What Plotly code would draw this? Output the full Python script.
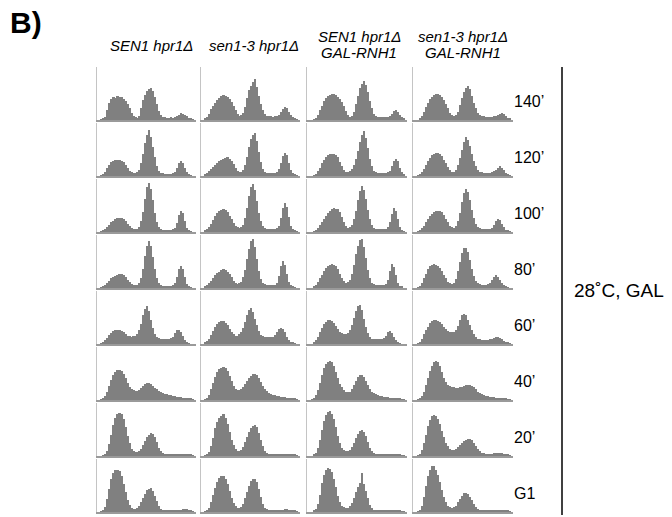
import plotly.graph_objects as go

# ---------------- data ----------------
strains = ["SEN1 hpr1Δ", "sen1-3 hpr1Δ", "SEN1 hpr1Δ<br>GAL-RNH1", "sen1-3 hpr1Δ<br>GAL-RNH1"]
timepoints = ["140’", "120’", "100’", "80’", "60’", "40’", "20’", "G1"]
n_bins = 50
bin_width = 2  # DNA-content channel units per bin (axis 0..100)

# cell counts (% of panel height) per bin, one list per timepoint (140' ... G1)
counts_SEN1 = [
    [0,0,1,2,6,18,32,40,43,42, 45,44,43,40,36,30,22,14,8,5, 4,8,22,38,48,55,58,60,55,44, 30,17,9,6,5,4,4,5,4,5, 7,10,13,12,10,7,4,2,1,0],
    [0,0,1,3,8,15,21,26,29,31, 30,31,29,26,21,15,10,7,5,5, 7,12,24,42,62,78,86,74,55,35, 19,10,6,5,4,4,4,4,5,8, 15,25,29,25,15,7,3,1,0,0],
    [0,0,1,3,6,10,14,18,21,24, 26,27,27,25,21,16,11,7,5,5, 6,10,20,38,62,84,93,82,60,36, 18,9,5,4,4,4,4,4,5,8, 17,32,40,35,20,8,3,1,0,0],
    [0,0,1,3,6,10,14,18,21,23, 25,26,26,24,21,16,12,8,6,5, 5,9,18,36,60,80,89,80,58,35, 18,9,5,4,4,4,4,4,5,9, 20,35,42,36,20,8,3,1,0,0],
    [0,0,1,3,7,12,17,21,24,26, 27,27,25,22,19,16,15,14,15,16, 19,26,38,54,66,71,62,46,30,18, 13,11,10,10,9,10,10,11,14,20, 26,27,23,15,8,3,1,0,0,0],
    [0,0,1,3,8,16,27,38,47,53, 56,57,55,50,42,33,25,21,18,17, 17,19,23,27,30,32,32,30,27,23, 20,17,15,14,12,11,10,9,8,7, 6,6,5,4,4,3,3,2,1,0],
    [0,0,0,1,4,10,22,40,58,72, 79,82,80,70,55,38,24,14,9,7, 8,10,14,20,28,35,40,43,42,36, 26,16,9,5,4,3,3,3,3,2, 3,3,3,3,3,2,2,2,1,0],
    [0,0,1,3,10,24,44,62,74,79, 80,78,68,53,37,23,13,8,6,6, 8,12,18,26,34,41,44,45,40,31, 20,11,6,4,3,3,3,3,3,3, 3,4,4,5,6,6,4,2,1,0],
]
counts_sen13 = [
    [0,0,2,6,12,20,27,33,38,42, 45,47,46,44,40,34,26,18,11,8, 9,14,25,42,57,64,72,77,62,45, 30,18,11,8,7,7,6,7,8,10, 15,21,24,22,15,9,5,3,1,0],
    [0,0,2,5,9,13,17,21,25,28, 31,33,34,35,33,28,22,15,10,8, 8,11,20,36,55,70,78,81,66,45, 27,14,8,6,6,5,5,6,8,13, 25,38,44,40,25,12,5,2,1,0],
    [0,0,2,5,10,16,23,30,36,40, 42,43,41,37,31,24,17,12,9,8, 9,14,26,46,68,84,90,80,58,36, 20,11,7,6,5,5,5,5,7,12, 26,46,55,48,28,12,5,2,1,0],
    [0,0,2,5,9,14,19,24,28,31, 34,35,34,31,26,20,14,10,8,9, 12,20,34,54,74,88,92,78,54,32, 17,10,7,6,5,5,5,6,10,22, 42,51,44,26,12,5,2,1,0,0],
    [0,0,2,5,10,17,25,32,38,41, 43,43,40,35,28,22,18,16,16,18, 22,30,42,55,64,67,60,48,35,24, 17,15,14,13,13,13,14,17,22,28, 31,29,22,14,8,4,2,1,0,0],
    [0,0,1,4,10,20,32,44,53,58, 61,62,60,54,45,35,27,21,18,18, 20,24,30,36,42,46,49,50,47,41, 34,27,21,17,14,12,10,9,8,7, 6,5,5,4,4,3,2,2,1,0],
    [0,0,1,3,8,18,34,52,65,72, 76,80,72,60,45,31,20,13,10,10, 12,17,26,36,46,53,57,58,54,44, 31,19,10,6,4,4,3,3,4,4, 3,4,4,3,3,3,2,2,1,0],
    [0,0,1,3,8,18,32,46,57,64, 67,68,63,53,40,27,17,11,8,8, 10,16,26,38,50,58,62,63,57,44, 29,16,8,5,4,3,3,3,3,4, 4,4,5,5,4,3,2,2,1,0],
]
counts_SEN1_RNH1 = [
    [0,0,0,1,4,10,18,27,35,41, 45,48,50,49,47,44,40,34,26,17, 10,6,8,16,30,46,60,68,74,66, 52,36,22,12,8,6,5,5,5,6, 6,8,12,17,19,16,10,5,2,0],
    [0,0,0,1,4,9,16,24,31,36, 40,42,41,42,40,35,27,18,11,8, 7,9,13,20,32,48,64,78,84,72, 52,33,18,10,7,5,5,5,5,6, 7,10,18,28,33,28,16,7,2,0],
    [0,0,0,1,4,8,13,19,25,31, 36,40,43,45,44,43,37,28,18,11, 8,9,14,24,40,60,78,87,80,62, 42,25,14,8,6,5,5,5,5,6, 9,18,34,45,40,24,10,4,1,0],
    [0,0,0,2,6,11,18,25,32,38, 42,44,45,44,41,35,27,19,13,10, 11,16,27,44,64,80,90,92,78,56, 34,18,10,7,6,6,5,5,6,8, 16,32,45,40,24,10,4,2,0,0],
    [0,0,0,2,7,14,22,30,37,42, 45,46,44,40,34,28,23,20,18,18, 20,26,36,50,63,72,74,64,48,32, 20,13,10,10,9,9,10,10,12,16, 22,24,20,13,7,3,1,0,0,0],
    [0,0,1,3,9,19,33,48,60,68, 72,74,72,64,53,41,31,24,19,16, 15,16,20,28,36,43,47,48,44,36, 28,21,16,13,11,9,8,7,6,5, 5,4,4,3,3,2,2,1,1,0],
    [0,0,0,2,6,15,30,50,66,78, 83,84,80,70,54,38,25,16,11,10, 10,12,17,25,34,42,48,50,46,37, 26,16,9,5,4,3,3,3,3,3, 3,3,4,3,3,3,2,1,1,0],
    [0,0,0,2,6,16,33,54,70,80, 83,82,76,63,47,31,19,12,9,8, 8,11,17,27,38,48,54,74,52,40, 26,14,7,4,3,3,3,3,3,3, 3,3,4,4,3,3,2,1,1,0],
]
counts_sen13_RNH1 = [
    [0,0,0,2,7,15,24,32,39,44, 47,50,49,48,44,38,30,22,14,9, 7,9,16,28,42,53,60,64,58,46, 33,22,14,10,8,7,6,6,5,6, 7,8,10,12,13,11,7,4,2,0],
    [0,0,1,3,8,14,21,28,34,39, 42,44,43,41,37,31,24,17,11,8, 8,11,20,34,50,64,73,68,56,42, 29,18,11,8,7,6,6,6,6,7, 9,12,16,18,16,11,6,3,1,0],
    [0,0,1,3,7,12,18,24,30,34, 37,39,40,40,37,32,25,18,12,9, 8,11,20,36,56,74,82,76,60,42, 27,16,10,7,6,6,5,6,6,8, 13,20,25,23,16,9,4,2,1,0],
    [0,0,1,4,10,18,27,35,41,44, 45,44,42,38,32,25,18,12,9,8, 10,17,32,50,66,75,76,68,52,35, 22,13,9,7,6,6,6,7,10,15, 21,24,21,15,9,5,3,1,0,0],
    [0,0,1,4,10,18,26,33,39,43, 45,45,44,41,37,32,28,25,23,22, 22,26,34,45,54,57,54,46,36,26, 18,13,10,9,8,8,8,8,9,10, 12,14,14,12,9,6,4,2,1,0],
    [0,0,1,3,8,16,28,42,55,65, 71,74,72,64,53,42,34,29,27,25, 24,23,23,24,25,27,28,29,29,27, 24,20,16,13,11,9,8,7,6,5, 5,4,4,3,3,2,2,1,1,0],
    [0,0,1,4,11,24,40,56,68,75, 77,76,70,60,47,35,25,18,14,12, 12,14,17,21,25,28,31,33,33,30, 25,19,13,9,6,5,4,4,4,4, 5,5,6,6,5,4,3,2,1,0],
    [0,0,1,4,12,28,50,68,80,86, 87,80,70,56,41,28,18,12,9,8, 9,12,18,25,31,35,36,34,29,22, 15,9,5,4,3,3,3,3,3,3, 3,3,4,3,3,3,2,2,1,0],
]
all_counts = [counts_SEN1, counts_sen13, counts_SEN1_RNH1, counts_sen13_RNH1]

# ---------------- layout geometry (pixels) ----------------
W, H = 672, 517
col_left = [97, 201, 307, 413]
col_w = [99, 99, 100, 100]
row_top0, row_pitch, row_h = 67, 56, 53

def px_x(x):
    return x / W

def px_y(y):
    return 1 - y / H

bin_centers = [bin_width * b + bin_width / 2 for b in range(n_bins)]

fig = go.Figure()
layout_axes = {}
k = 0
for c, counts in enumerate(all_counts):
    for r, vals in enumerate(counts):
        k += 1
        xa = "x" if k == 1 else f"x{k}"
        ya = "y" if k == 1 else f"y{k}"
        fig.add_trace(go.Bar(
            x=bin_centers, y=vals, width=bin_width,
            marker=dict(color="#808080", line=dict(width=0)),
            xaxis=xa, yaxis=ya, showlegend=False, hoverinfo="skip",
        ))
        top = row_top0 + r * row_pitch
        bot = top + row_h
        xkey = "xaxis" if k == 1 else f"xaxis{k}"
        ykey = "yaxis" if k == 1 else f"yaxis{k}"
        layout_axes[xkey] = dict(
            domain=[px_x(col_left[c]), px_x(col_left[c] + col_w[c])],
            range=[0, 100], anchor=ya, showgrid=False, zeroline=False,
            showticklabels=False, ticks="", showline=True,
            linecolor="#9a9a9a", linewidth=1.5, fixedrange=True,
        )
        layout_axes[ykey] = dict(
            domain=[px_y(bot), px_y(top)],
            range=[0, 100], anchor=xa, showgrid=False, zeroline=False,
            showticklabels=False, ticks="", showline=True,
            linecolor="#c4c4c4", linewidth=1, fixedrange=True,
        )

fig.update_layout(**layout_axes)

font_family = "Liberation Sans, Arial, Helvetica, sans-serif"
annotations = []

def note(text, x, y, size, xanchor="left"):
    annotations.append(dict(text=text, x=px_x(x), y=px_y(y), xref="paper", yref="paper",
                            xanchor=xanchor, yanchor="middle", showarrow=False,
                            font=dict(size=size, color="black", family=font_family)))

# panel label
note("<b>B)</b>", 8, 23, 30)
# column headers
header_cx = [151, 254, 359, 463]
for c, s in enumerate(strains):
    if "<br>" in s:
        l1, l2 = s.split("<br>")
        note(f"<i>{l1}</i>", header_cx[c], 36, 15, "center")
        note(f"<i>{l2}</i>", header_cx[c], 53, 15, "center")
    else:
        note(f"<i>{s}</i>", header_cx[c], 46, 15, "center")
# row labels
for r, t in enumerate(timepoints):
    note(t, 512, 101 + r * row_pitch, 16)
# condition label
note("28˚C, GAL", 572, 290, 19)

fig.update_layout(
    width=W, height=H, margin=dict(l=0, r=0, t=0, b=0),
    paper_bgcolor="white", plot_bgcolor="white",
    bargap=0, annotations=annotations,
    shapes=[dict(type="line", xref="paper", yref="paper", x0=px_x(562), x1=px_x(562),
                 y0=px_y(515), y1=px_y(67), line=dict(color="black", width=1.5))],
)

fig.write_html("out.html", config={"displayModeBar": False},
               post_script="document.body.style.margin='0';")
